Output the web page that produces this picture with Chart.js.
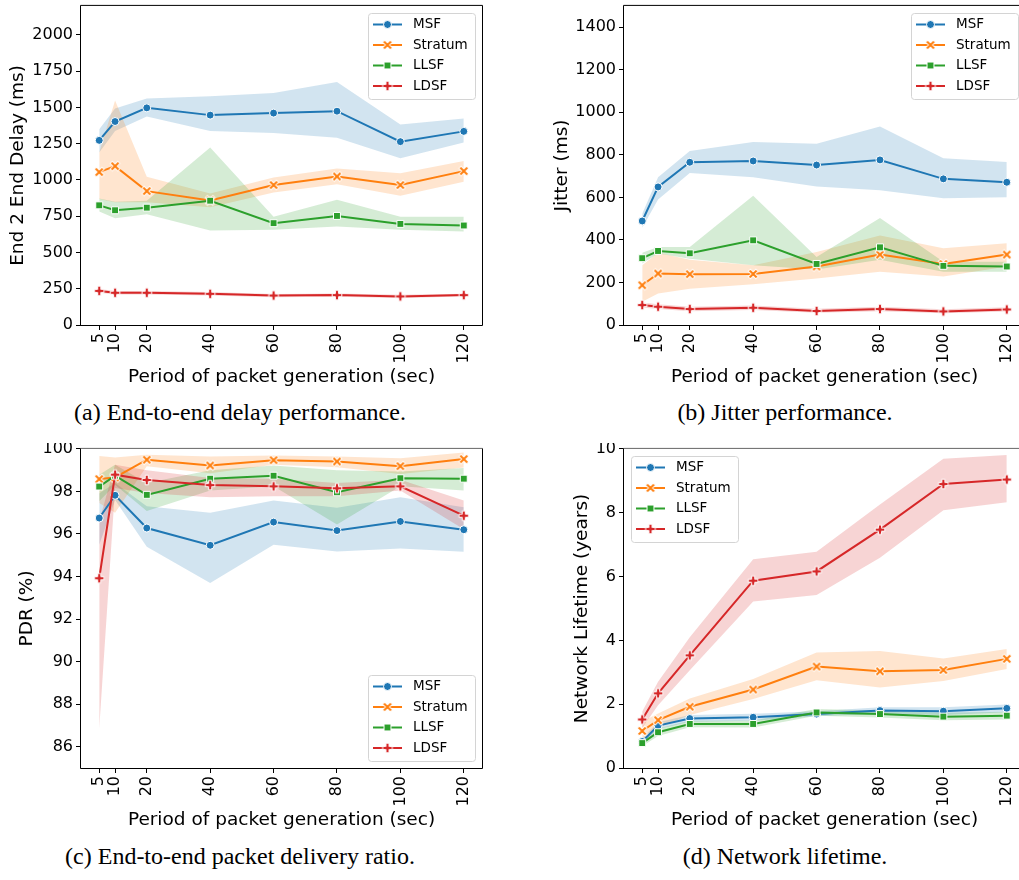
<!DOCTYPE html>
<html>
<head>
<meta charset="utf-8">
<script src="https://cdn.jsdelivr.net/npm/chart.js@4.4.0/dist/chart.umd.min.js"></script>
<style>
  html, body { margin: 0; padding: 0; background: #fff; }
  body { width: 1019px; height: 880px; overflow: hidden; position: relative; }
  .panel { position: absolute; height: 390px; }
  .caption {
    position: absolute; width: 480px; text-align: center; white-space: nowrap;
    font-family: "Liberation Serif", "Times New Roman", serif; font-size: 24px; line-height: 24px; color: #000;
  }
</style>
</head>
<body>
<div class="panel" style="left:0;top:0;width:505px"><canvas id="delayChart"></canvas></div>
<div class="panel" style="left:520px;top:0;width:520px"><canvas id="jitterChart"></canvas></div>
<div class="panel" style="left:0;top:443px;width:505px"><canvas id="pdrChart"></canvas></div>
<div class="panel" style="left:520px;top:443px;width:520px"><canvas id="lifetimeChart"></canvas></div>

<div class="caption" style="left:0;top:400px">(a) End-to-end delay performance.</div>
<div class="caption" style="left:545px;top:400px">(b) Jitter performance.</div>
<div class="caption" style="left:0;top:844px">(c) End-to-end packet delivery ratio.</div>
<div class="caption" style="left:545px;top:844px">(d) Network lifetime.</div>

<script>
const periods = [5, 10, 20, 40, 60, 80, 100, 120];
const xTicks = [5, 10, 20, 40, 60, 80, 100, 120];
const xLabel = "Period of packet generation (sec)";
const names = ["MSF", "Stratum", "LLSF", "LDSF"];

// (a) end-to-end delay (ms): mean, lower and upper band
const delayMSF = [1273, 1403, 1497, 1447, 1461, 1474, 1264, 1335];
const delayMSFLo = [1189, 1337, 1438, 1337, 1323, 1291, 1150, 1259];
const delayMSFHi = [1349, 1493, 1561, 1577, 1600, 1675, 1383, 1424];
const delayStratum = [1054, 1095, 923, 859, 965, 1024, 965, 1061];
const delayStratumLo = [869, 846, 846, 811, 914, 971, 891, 987];
const delayStratumHi = [1189, 1547, 1022, 907, 1017, 1079, 1047, 1131];
const delayLLSF = [825, 791, 809, 857, 702, 752, 697, 686];
const delayLLSFLo = [782, 736, 763, 651, 656, 679, 656, 645];
const delayLLSFHi = [873, 850, 857, 1223, 747, 864, 747, 747];
const delayLDSF = [235, 222, 222, 215, 203, 206, 197, 206];
const delayLDSFLo = [222, 210, 210, 203, 192, 195, 187, 196];
const delayLDSFHi = [248, 234, 234, 227, 214, 217, 208, 216];
const delayTicks = [0, 250, 500, 750, 1000, 1250, 1500, 1750, 2000];

// (b) jitter (ms)
const jitterMSF = [489, 649, 765, 771, 752, 776, 687, 671];
const jitterMSFLo = [457, 590, 715, 695, 651, 634, 596, 601];
const jitterMSFHi = [523, 695, 818, 860, 852, 933, 784, 766];
const jitterStratum = [187, 242, 239, 240, 275, 331, 287, 331];
const jitterStratumLo = [109, 148, 170, 192, 219, 250, 228, 275];
const jitterStratumHi = [281, 340, 307, 281, 343, 421, 361, 384];
const jitterLLSF = [314, 348, 337, 398, 287, 365, 278, 275];
const jitterLLSFLo = [289, 336, 312, 281, 261, 307, 250, 250];
const jitterLLSFHi = [340, 367, 367, 607, 320, 503, 297, 297];
const jitterLDSF = [94, 86, 75, 81, 66, 75, 64, 73];
const jitterLDSFLo = [82, 75, 65, 71, 57, 65, 55, 63];
const jitterLDSFHi = [106, 98, 86, 92, 76, 86, 74, 84];
const jitterTicks = [0, 200, 400, 600, 800, 1000, 1200, 1400];

// (c) packet delivery ratio (%)
const pdrMSF = [96.75, 97.82, 96.28, 95.47, 96.56, 96.16, 96.59, 96.20];
const pdrMSFLo = [95.5, 97.6, 95.4, 93.7, 95.49, 95.18, 95.32, 95.16];
const pdrMSFHi = [97.9, 98.4, 97.3, 97.0, 97.57, 97.23, 97.73, 97.26];
const pdrStratum = [98.58, 98.66, 99.49, 99.22, 99.47, 99.41, 99.19, 99.52];
const pdrStratumLo = [97.46, 97.0, 99.18, 98.86, 99.25, 99.14, 98.82, 99.13];
const pdrStratumHi = [99.67, 99.6, 99.72, 99.64, 99.69, 99.64, 99.56, 99.83];
const pdrLLSF = [98.23, 98.74, 97.84, 98.6, 98.74, 97.96, 98.62, 98.6];
const pdrLLSFLo = [97.54, 98.32, 97.08, 98.04, 98.24, 96.45, 98.24, 98.04];
const pdrLLSFHi = [98.79, 99.25, 98.4, 99.0, 99.22, 99.0, 98.94, 99.1];
const pdrLDSF = [93.92, 98.79, 98.54, 98.30, 98.24, 98.15, 98.24, 96.86];
const pdrLDSFLo = [86.84, 98.16, 97.93, 97.73, 97.78, 97.78, 98.04, 96.22];
const pdrLDSFHi = [96.6, 99.25, 99.0, 98.63, 98.6, 98.4, 98.55, 97.57];
const pdrTicks = [86, 88, 90, 92, 94, 96, 98, 100];

// (d) network lifetime (years)
const lifeMSF = [0.83, 1.33, 1.55, 1.59, 1.69, 1.80, 1.78, 1.87];
const lifeMSFLo = [0.73, 1.22, 1.45, 1.48, 1.62, 1.70, 1.66, 1.75];
const lifeMSFHi = [0.93, 1.43, 1.66, 1.70, 1.78, 1.90, 1.90, 1.99];
const lifeStratum = [1.16, 1.50, 1.92, 2.46, 3.18, 3.03, 3.07, 3.42];
const lifeStratumLo = [0.88, 1.25, 1.66, 2.16, 2.75, 2.52, 2.73, 3.10];
const lifeStratumHi = [1.45, 1.71, 2.18, 2.79, 3.62, 3.67, 3.43, 3.73];
const lifeLLSF = [0.78, 1.12, 1.38, 1.38, 1.74, 1.69, 1.61, 1.64];
const lifeLLSFLo = [0.68, 1.00, 1.28, 1.27, 1.64, 1.58, 1.50, 1.52];
const lifeLLSFHi = [0.88, 1.24, 1.48, 1.49, 1.85, 1.80, 1.73, 1.76];
const lifeLDSF = [1.52, 2.34, 3.53, 5.87, 6.16, 7.47, 8.90, 9.04];
const lifeLDSFLo = [1.25, 1.97, 3.06, 5.22, 5.42, 6.59, 8.08, 8.33];
const lifeLDSFHi = [1.77, 2.70, 4.10, 6.54, 6.78, 8.26, 9.69, 9.81];
const lifeTicks = [0, 2, 4, 6, 8, 10];

const colors = ["#1f77b4", "#ff7f0e", "#2ca02c", "#d62728"];
const bandColors = ["rgba(31,119,180,0.2)", "rgba(255,127,14,0.2)", "rgba(44,160,44,0.2)", "rgba(214,39,40,0.2)"];
const FONT = "DejaVu Sans";

// seaborn's filled "X" and "P" markers, white edged
function makeMarker(kind, color) {
  const c = document.createElement("canvas");
  c.width = 14; c.height = 14;
  const g = c.getContext("2d");
  g.translate(7, 7);
  if (kind === "x") g.rotate(Math.PI / 4);
  const a = kind === "x" ? 5.4 : 4.8, w = kind === "x" ? 1.5 : 1.6;
  g.beginPath();
  g.moveTo(-w, -a); g.lineTo(w, -a); g.lineTo(w, -w); g.lineTo(a, -w);
  g.lineTo(a, w); g.lineTo(w, w); g.lineTo(w, a); g.lineTo(-w, a);
  g.lineTo(-w, w); g.lineTo(-a, w); g.lineTo(-a, -w); g.lineTo(-w, -w);
  g.closePath();
  g.fillStyle = color; g.fill();
  g.strokeStyle = "#fff"; g.lineWidth = 1; g.stroke();
  return c;
}
const markers = ["circle", makeMarker("x", colors[1]), "rect", makeMarker("p", colors[3])];
const markerRadius = [4, 4.5, 4.9, 4.5];

function pts(ys) {
  return ys.map((y, i) => ({ x: periods[i], y }));
}

function buildDatasets(means, los, his) {
  const out = [];
  names.forEach((name, k) => {
    out.push({ label: name + " hi", data: pts(his[k]), borderColor: "rgba(0,0,0,0)", borderWidth: 0,
      pointRadius: 0, fill: false, order: 20 - k });
    out.push({ label: name + " lo", data: pts(los[k]), borderColor: "rgba(0,0,0,0)", borderWidth: 0,
      pointRadius: 0, fill: "-1", backgroundColor: bandColors[k], order: 20 - k });
  });
  names.forEach((name, k) => {
    out.push({ label: name, data: pts(means[k]), borderColor: colors[k], borderWidth: 2,
      pointStyle: markers[k], pointRadius: markerRadius[k], pointBackgroundColor: colors[k],
      pointBorderColor: "#fff", pointBorderWidth: 1, fill: false, order: 10 - k });
  });
  return out;
}

function drawLegendMarker(ctx, k, x, y) {
  const m = markers[k];
  if (typeof m !== "string") {
    ctx.drawImage(m, x - m.width / 2, y - m.height / 2);
    return;
  }
  ctx.fillStyle = colors[k];
  ctx.strokeStyle = "#fff";
  ctx.lineWidth = 1;
  ctx.beginPath();
  if (m === "circle") {
    ctx.arc(x, y, markerRadius[k], 0, Math.PI * 2);
  } else {
    const s = markerRadius[k] * Math.SQRT1_2;
    ctx.rect(x - s, y - s, 2 * s, 2 * s);
  }
  ctx.fill();
  ctx.stroke();
}

const framePlugin = {
  id: "frame",
  afterDatasetsDraw(chart, args, opts) {
    const { ctx, chartArea: a } = chart;
    ctx.save();
    ctx.lineWidth = 1;
    ctx.strokeStyle = "#000";
    ctx.beginPath();
    ctx.moveTo(a.left - 0.5, a.top - 0.5);
    ctx.lineTo(a.left - 0.5, a.bottom + 0.5);
    ctx.lineTo(a.right + 0.5, a.bottom + 0.5);
    ctx.lineTo(a.right + 0.5, a.top - 0.5);
    ctx.stroke();
    ctx.strokeStyle = opts.topColor || "#000";
    ctx.beginPath();
    ctx.moveTo(a.left - 0.5, a.top - 0.5);
    ctx.lineTo(a.right + 0.5, a.top - 0.5);
    ctx.stroke();
    ctx.restore();
  }
};

const legendPlugin = {
  id: "innerLegend",
  afterDraw(chart, args, opts) {
    const { ctx, chartArea: a } = chart;
    const w = 107, h = 86, m = 7;
    const x0 = Math.round(opts.corner === "tl" ? a.left + m : a.right - m - w);
    const y0 = Math.round(opts.corner === "br" ? a.bottom - m - h : a.top + m);
    ctx.save();
    ctx.beginPath();
    ctx.roundRect(x0 + 0.5, y0 + 0.5, w, h, 3);
    ctx.fillStyle = "rgba(255,255,255,0.8)";
    ctx.fill();
    ctx.strokeStyle = "#d4d4d4";
    ctx.lineWidth = 1;
    ctx.stroke();
    ctx.font = "13.5px '" + FONT + "'";
    ctx.textBaseline = "middle";
    names.forEach((name, k) => {
      const cy = y0 + 11.5 + k * 20.5;
      ctx.strokeStyle = colors[k];
      ctx.lineWidth = 2;
      ctx.beginPath();
      ctx.moveTo(x0 + 5, cy);
      ctx.lineTo(x0 + 34, cy);
      ctx.stroke();
      drawLegendMarker(ctx, k, x0 + 19.5, cy);
      ctx.fillStyle = "#000";
      ctx.fillText(name, x0 + 45, cy);
    });
    ctx.restore();
  }
};

function makeChart(id, p) {
  return new Chart(document.getElementById(id), {
    type: "line",
    data: { datasets: buildDatasets(p.means, p.los, p.his) },
    plugins: [framePlugin, legendPlugin],
    options: {
      responsive: true,
      maintainAspectRatio: false,
      animation: false,
      events: [],
      layout: { padding: { left: 0, top: 4, right: p.rightPad, bottom: 0 } },
      plugins: {
        legend: { display: false },
        tooltip: { enabled: false },
        frame: { topColor: p.topColor },
        innerLegend: { corner: p.legendCorner }
      },
      scales: {
        x: {
          type: "linear",
          min: -0.75,
          max: 125.75,
          afterBuildTicks: s => { s.ticks = xTicks.map(v => ({ value: v })); },
          afterFit: s => { s.height = 65; s.paddingLeft = 0; s.paddingRight = 0; },
          ticks: { minRotation: 90, maxRotation: 90, autoSkip: false, padding: 3, color: "#000",
            font: { family: FONT, size: 16 }, callback: v => String(v) },
          grid: { display: true, drawOnChartArea: false, drawTicks: true, tickLength: 5, tickColor: "#000", tickWidth: 1 },
          border: { display: false },
          title: { display: true, text: xLabel, color: "#000", font: { family: FONT, size: 18.5 },
            padding: { top: 0, bottom: 2 } }
        },
        y: {
          type: "linear",
          min: p.yMin,
          max: p.yMax,
          afterBuildTicks: s => { s.ticks = p.yTicks.map(v => ({ value: v })); },
          afterFit: s => { s.width = p.yWidth; s.paddingTop = 0; s.paddingBottom = 0; },
          ticks: { padding: 3, color: "#000", font: { family: FONT, size: 16 }, callback: v => String(v) },
          grid: { display: true, drawOnChartArea: false, drawTicks: true, tickLength: 5, tickColor: "#000", tickWidth: 1 },
          border: { display: false },
          title: { display: true, text: p.yLabel, color: "#000", font: { family: FONT, size: 18.5 },
            padding: { top: p.titlePad, bottom: 0 } }
        }
      }
    }
  });
}

makeChart("delayChart", {
  means: [delayMSF, delayStratum, delayLLSF, delayLDSF],
  los: [delayMSFLo, delayStratumLo, delayLLSFLo, delayLDSFLo],
  his: [delayMSFHi, delayStratumHi, delayLLSFHi, delayLDSFHi],
  yMin: 0, yMax: 2200, yTicks: delayTicks, yLabel: "End 2 End Delay (ms)",
  yWidth: 81, titlePad: 7, rightPad: 23, legendCorner: "tr"
});

makeChart("jitterChart", {
  means: [jitterMSF, jitterStratum, jitterLLSF, jitterLDSF],
  los: [jitterMSFLo, jitterStratumLo, jitterLLSFLo, jitterLDSFLo],
  his: [jitterMSFHi, jitterStratumHi, jitterLLSFHi, jitterLDSFHi],
  yMin: 0, yMax: 1500, yTicks: jitterTicks, yLabel: "Jitter (ms)",
  yWidth: 104, titlePad: 31, rightPad: 15, legendCorner: "tr"
});

makeChart("pdrChart", {
  means: [pdrMSF, pdrStratum, pdrLLSF, pdrLDSF],
  los: [pdrMSFLo, pdrStratumLo, pdrLLSFLo, pdrLDSFLo],
  his: [pdrMSFHi, pdrStratumHi, pdrLLSFHi, pdrLDSFHi],
  yMin: 85, yMax: 100, yTicks: pdrTicks, yLabel: "PDR (%)",
  yWidth: 81, titlePad: 16, rightPad: 23, legendCorner: "br", topColor: "#666"
});

makeChart("lifetimeChart", {
  means: [lifeMSF, lifeStratum, lifeLLSF, lifeLDSF],
  los: [lifeMSFLo, lifeStratumLo, lifeLLSFLo, lifeLDSFLo],
  his: [lifeMSFHi, lifeStratumHi, lifeLLSFHi, lifeLDSFHi],
  yMin: 0, yMax: 10, yTicks: lifeTicks, yLabel: "Network Lifetime (years)",
  yWidth: 104, titlePad: 51, rightPad: 15, legendCorner: "tl", topColor: "#666"
});
</script>
</body>
</html>
